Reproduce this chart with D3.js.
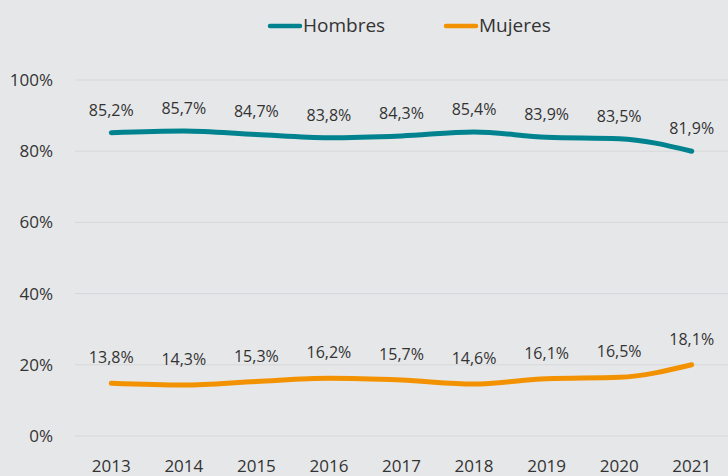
<!DOCTYPE html>
<html>
<head>
<meta charset="utf-8">
<script src="https://cdn.jsdelivr.net/npm/d3@7"></script>
<style>
  body { margin: 0; background: #e6e7e9; }
  svg { display: block; font-family: "Open Sans", sans-serif; }
  .grid line { stroke: #d6d7d9; stroke-width: 1; }
  .axis text { fill: #333; font-size: 17px; }
  .lbl { fill: #333; font-size: 16px; text-anchor: middle; }
  .legend text { fill: #333; font-size: 19px; }
</style>
</head>
<body>
<div id="chart"></div>
<script>
// values
var years = ["2013", "2014", "2015", "2016", "2017", "2018", "2019", "2020", "2021"];
var hombres = [85.2, 85.7, 84.7, 83.8, 84.3, 85.4, 83.9, 83.5, 80.0];
var mujeres = [14.8, 14.3, 15.3, 16.2, 15.7, 14.6, 16.1, 16.5, 20.0];
var hombresLbl = ["85,2%", "85,7%", "84,7%", "83,8%", "84,3%", "85,4%", "83,9%", "83,5%", "81,9%"];
var mujeresLbl = ["13,8%", "14,3%", "15,3%", "16,2%", "15,7%", "14,6%", "16,1%", "16,5%", "18,1%"];
var yTicks = [0, 20, 40, 60, 80, 100];

var width = 728, height = 476;
var margin = {top: 80, right: 0, bottom: 40, left: 75};

var svg = d3.select("#chart").append("svg")
  .attr("width", width)
  .attr("height", height);

var x = d3.scalePoint()
  .domain(years)
  .range([margin.left, width - margin.right])
  .padding(0.5);

var y = d3.scaleLinear()
  .domain([0, 100])
  .range([height - margin.bottom, margin.top]);

// gridlines
svg.append("g").attr("class", "grid")
  .selectAll("line").data(yTicks).enter().append("line")
  .attr("x1", margin.left).attr("x2", width - margin.right)
  .attr("y1", function(d) { return y(d); })
  .attr("y2", function(d) { return y(d); });

// y axis labels
svg.append("g").attr("class", "axis")
  .selectAll("text").data(yTicks).enter().append("text")
  .attr("x", 53)
  .attr("y", function(d) { return y(d); })
  .attr("dy", "0.35em")
  .attr("text-anchor", "end")
  .text(function(d) { return d + "%"; });

// x axis labels
svg.append("g").attr("class", "axis")
  .selectAll("text").data(years).enter().append("text")
  .attr("x", function(d) { return x(d); })
  .attr("y", 472)
  .attr("text-anchor", "middle")
  .text(function(d) { return d; });

var series = [
  {name: "Hombres", values: hombres, labels: hombresLbl, color: "#00838f", off: 17},
  {name: "Mujeres", values: mujeres, labels: mujeresLbl, color: "#f39200", off: 20}
];

var line = d3.line()
  .x(function(d, i) { return x(years[i]); })
  .y(function(d) { return y(d); })
  .curve(d3.curveMonotoneX);

series.forEach(function(s) {
  svg.append("path")
    .attr("d", line(s.values))
    .attr("fill", "none")
    .attr("stroke", s.color)
    .attr("stroke-width", 5)
    .attr("stroke-linecap", "round");

  svg.append("g").selectAll("text").data(s.values).enter().append("text")
    .attr("class", "lbl")
    .attr("x", function(d, i) { return x(years[i]); })
    .attr("y", function(d) { return y(d) - s.off; })
    .text(function(d, i) { return s.labels[i]; });
});

// legend
var legX = [270, 446];
var leg = svg.append("g").attr("class", "legend");
series.forEach(function(s, i) {
  leg.append("line")
    .attr("x1", legX[i]).attr("x2", legX[i] + 30)
    .attr("y1", 26).attr("y2", 26)
    .attr("stroke", s.color)
    .attr("stroke-width", 4.5)
    .attr("stroke-linecap", "round");
  leg.append("text")
    .attr("x", legX[i] + 33)
    .attr("y", 32)
    .text(s.name);
});
</script>
</body>
</html>
